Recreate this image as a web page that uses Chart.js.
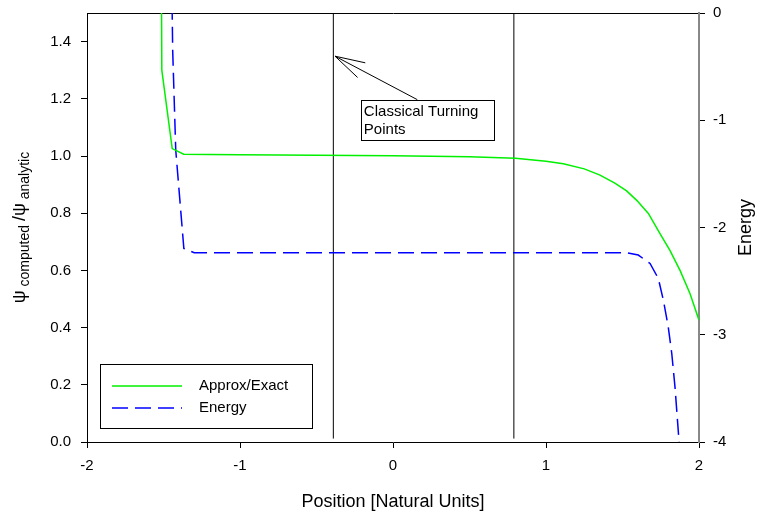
<!DOCTYPE html>
<html>
<head>
<meta charset="utf-8">
<script src="https://cdn.jsdelivr.net/npm/chart.js@4/dist/chart.umd.min.js"></script>
<style>
  body { margin: 0; background: #fff; }
  #wrap { width: 762px; height: 515px; position: relative; }
</style>
</head>
<body>
<div id="wrap"><canvas id="psiChart"></canvas></div>
<script>
// ratio psi computed / psi analytic (left axis)
var ratioX = [-1.53, -1.511, -1.443, -1.368, -1.2, -1.0, -0.5, 0.0, 0.5, 0.8, 1.0, 1.113, 1.25, 1.353, 1.45, 1.527, 1.593, 1.669, 1.745, 1.81, 1.876, 1.941, 2.0];
var ratioY = [3.5, 1.30, 1.026, 1.006, 1.005, 1.004, 1.003, 1.001, 0.997, 0.992, 0.982, 0.973, 0.955, 0.933, 0.905, 0.878, 0.845, 0.799, 0.729, 0.670, 0.600, 0.519, 0.426];

// energy (right axis)
var energyX = [-1.446, -1.44, -1.42, -1.367, -1.299, -1.0, 0.0, 1.0, 1.527, 1.603, 1.68, 1.734, 1.767, 1.799, 1.822, 1.843, 1.869, 1.876];
var energyY = [0.3, -0.345, -1.278, -2.195, -2.236, -2.236, -2.236, -2.236, -2.236, -2.257, -2.335, -2.475, -2.677, -2.927, -3.175, -3.486, -3.983, -4.1];

// classical turning points
var turningX = [-0.39, 0.79];
var turningY = [0.012, 1.5];

var seriesLabels = ['Approx/Exact', 'Energy'];

function pts(xs, ys) {
    return xs.map(function (x, i) { return { x: x, y: ys[i] }; });
}

var FONT = 'Arial, "Liberation Sans", sans-serif';

var datasets = [
    {
        label: seriesLabels[0],
        data: pts(ratioX, ratioY),
        yAxisID: 'y',
        borderColor: '#00f000',
        borderWidth: 1.5,
        pointRadius: 0,
        tension: 0
    },
    {
        label: seriesLabels[1],
        data: pts(energyX, energyY),
        yAxisID: 'y1',
        borderColor: '#0000ff',
        borderWidth: 1.5,
        borderDash: [16, 7],
        pointRadius: 0,
        tension: 0
    }
];
turningX.forEach(function (tx) {
    datasets.push({
        label: 'turning',
        data: pts([tx, tx], turningY),
        yAxisID: 'y',
        borderColor: '#000',
        borderWidth: 1,
        pointRadius: 0
    });
});

// legend box, annotation and rotated axis titles
var extras = {
    id: 'extras',
    afterDraw: function (chart) {
        var ctx = chart.ctx;
        var area = chart.chartArea;
        var sx = chart.scales.x, sy = chart.scales.y;
        ctx.save();

        // legend
        var lx = area.left + 13, ly = area.bottom - 78;
        ctx.fillStyle = '#fff';
        ctx.fillRect(lx, ly, 212, 64);
        ctx.strokeStyle = '#000';
        ctx.lineWidth = 1;
        ctx.strokeRect(lx + 0.5, ly + 0.5, 212, 64);
        ctx.font = '15px ' + FONT;
        ctx.textBaseline = 'middle';
        [0, 1].forEach(function (i) {
            var ds = chart.data.datasets[i];
            var yy = ly + 22 + i * 22;
            ctx.strokeStyle = ds.borderColor;
            ctx.lineWidth = 1.5;
            ctx.setLineDash(ds.borderDash || []);
            ctx.beginPath();
            ctx.moveTo(lx + 12, yy);
            ctx.lineTo(lx + 82, yy);
            ctx.stroke();
            ctx.setLineDash([]);
            ctx.fillStyle = '#000';
            ctx.fillText(ds.label, lx + 99, yy);
        });

        // annotation box + arrow
        var bx = sx.getPixelForValue(-0.21), by = sy.getPixelForValue(1.197);
        ctx.fillStyle = '#fff';
        ctx.fillRect(bx, by, 133, 40);
        ctx.strokeStyle = '#000';
        ctx.lineWidth = 1;
        ctx.strokeRect(Math.round(bx) + 0.5, Math.round(by) + 0.5, 133, 40);
        ctx.fillStyle = '#000';
        ctx.textBaseline = 'middle';
        ctx.fillText('Classical Turning', bx + 3, by + 12);
        ctx.fillText('Points', bx + 3, by + 30);

        var tipX = sx.getPixelForValue(-0.379), tipY = sy.getPixelForValue(1.349);
        var tailX = sx.getPixelForValue(0.159), tailY = by;
        var ang = Math.atan2(tailY - tipY, tailX - tipX);
        ctx.beginPath();
        ctx.moveTo(tailX, tailY);
        ctx.lineTo(tipX, tipY);
        [-0.27, 0.27].forEach(function (d) {
            ctx.moveTo(tipX, tipY);
            ctx.lineTo(tipX + 31 * Math.cos(ang + d), tipY + 31 * Math.sin(ang + d));
        });
        ctx.stroke();

        // left title with subscripts
        var parts = [
            ['\u03c8', 18, 0], [' computed ', 14, 4],
            ['/\u03c8', 18, 0], [' analytic', 14, 4]
        ];
        var total = 0;
        parts.forEach(function (p) {
            ctx.font = p[1] + 'px ' + FONT;
            p.push(ctx.measureText(p[0]).width);
            total += p[3];
        });
        ctx.translate(19, (area.top + area.bottom) / 2);
        ctx.rotate(-Math.PI / 2);
        ctx.textBaseline = 'alphabetic';
        var cx = -total / 2;
        parts.forEach(function (p) {
            ctx.font = p[1] + 'px ' + FONT;
            ctx.fillText(p[0], cx, 6 + p[2]);
            cx += p[3];
        });
        ctx.restore();

        // right title
        ctx.save();
        ctx.translate(746, (area.top + area.bottom) / 2);
        ctx.rotate(-Math.PI / 2);
        ctx.font = '18px ' + FONT;
        ctx.fillStyle = '#000';
        ctx.textAlign = 'center';
        ctx.textBaseline = 'middle';
        ctx.fillText('Energy', 0, 0);
        ctx.restore();
    }
};

var tickFont = { family: FONT, size: 15 };

function fixWidth(w) {
    return function (s) {
        s.width = w;
        s.paddingTop = 0;
        s.paddingBottom = 0;
    };
}

new Chart(document.getElementById('psiChart').getContext('2d'), {
    type: 'line',
    data: { datasets: datasets },
    options: {
        responsive: true,
        maintainAspectRatio: false,
        animation: false,
        layout: { padding: { top: 13, left: 0, right: 0, bottom: 0 } },
        plugins: { legend: { display: false }, tooltip: { enabled: false } },
        scales: {
            x: {
                type: 'linear', position: 'bottom', min: -2, max: 2,
                ticks: { stepSize: 1, font: tickFont, color: '#000', padding: 9, maxRotation: 0 },
                grid: { drawOnChartArea: false, tickLength: 6, color: '#000' },
                border: { color: '#000', width: 1 },
                title: { display: true, text: 'Position [Natural Units]', color: '#000',
                         font: { family: FONT, size: 18 }, padding: { top: 4, bottom: 2 } },
                afterFit: function (s) { s.height = 73; s.paddingLeft = 0; s.paddingRight = 0; }
            },
            xTop: {
                type: 'linear', position: 'top', min: -2, max: 2,
                ticks: { display: false },
                grid: { display: false },
                border: { display: true, color: '#000', width: 1 },
                afterFit: function (s) { s.height = 0; s.paddingLeft = 0; s.paddingRight = 0; }
            },
            y: {
                type: 'linear', position: 'left', min: 0, max: 1.5,
                ticks: { stepSize: 0.2, includeBounds: false, font: tickFont, color: '#000', padding: 10,
                         callback: function (v) { return v.toFixed(1); } },
                grid: { drawOnChartArea: false, tickLength: 6, color: '#000' },
                border: { color: '#000', width: 1 },
                afterFit: fixWidth(87)
            },
            y1: {
                type: 'linear', position: 'right', min: -4, max: 0,
                ticks: { stepSize: 1, font: tickFont, color: '#000', padding: 8 },
                grid: { drawOnChartArea: false, tickLength: 6, color: '#000' },
                border: { color: '#888', width: 2 },
                afterFit: fixWidth(63)
            }
        }
    },
    plugins: [extras]
});
</script>
</body>
</html>
